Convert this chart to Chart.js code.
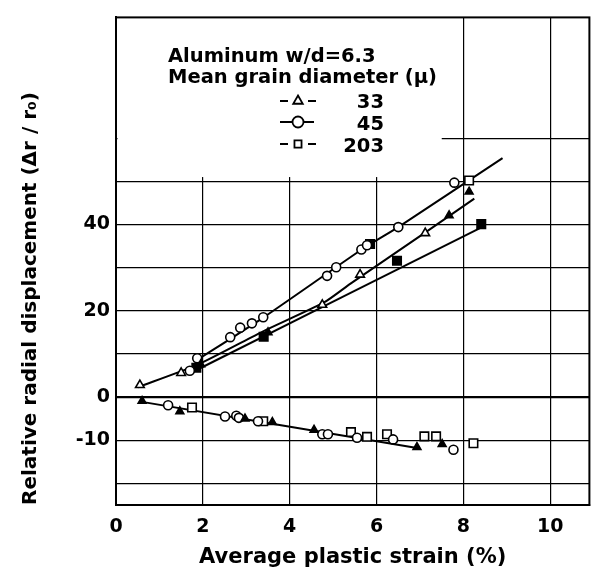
<!DOCTYPE html>
<html>
<head>
<meta charset="utf-8">
<script src="https://cdn.jsdelivr.net/npm/chart.js@4/dist/chart.umd.min.js"></script>
<style>
html, body { margin: 0; background: #fff; }
#wrap { width: 597px; height: 576px; }
</style>
</head>
<body>
<div id="wrap"><canvas id="graph"></canvas></div>
<script>
// Measured points, [strain %, displacement]
const tri33Open = [[0.55, 2.8], [1.5, 5.6], [4.75, 21.4], [5.62, 28.4], [7.12, 38.0]];
const tri33Filled = [[1.95, 7.6], [3.5, 15.0], [7.67, 42.1], [8.13, 47.6],
    [0.6, -0.9], [1.47, -3.3], [2.97, -5.0], [3.6, -5.8], [4.56, -7.6], [6.93, -11.6], [7.51, -10.9]];
const circ45 = [[1.7, 6.1], [1.87, 9.0], [2.63, 13.9], [2.86, 16.1], [3.13, 17.1], [3.39, 18.5],
    [4.86, 28.1], [5.07, 30.1], [5.65, 34.2], [5.78, 35.2], [6.5, 39.4], [7.79, 49.7],
    [1.2, -1.9], [2.51, -4.5], [2.77, -4.3], [2.83, -4.8], [3.27, -5.6], [4.75, -8.6],
    [4.88, -8.6], [5.55, -9.4], [6.38, -9.8], [7.77, -12.2]];
const sq203Open = [[8.13, 50.2], [1.75, -2.4], [3.39, -5.6], [5.41, -8.1], [5.78, -9.2],
    [6.24, -8.6], [7.1, -9.1], [7.37, -9.1], [8.23, -10.7]];
const sq203Filled = [[1.85, 6.8], [3.4, 14.0], [5.85, 35.5], [6.47, 31.6], [8.41, 40.1]];

// Drawn curves
const fit33 = [[0.5, 2.3], [1.9, 7.6], [3.4, 15.3], [4.8, 22], [5.4, 26.3], [7.1, 38], [8.25, 46]];
const fit45 = [[1.85, 8.5], [3.4, 18.5], [5.7, 34.5], [6.5, 39.4], [8.9, 55.4]];
const fit203 = [[1.8, 6.0], [8.45, 39.5]];
const fitNeg = [[0.6, -1.1], [7.0, -11.9]];

// Axis ticks and labels
const xTickLabels = [0, 2, 4, 6, 8, 10];
const yGridValues = [-20, -10, 0, 10, 20, 30, 40, 50, 60];
const yTickLabels = [-10, 0, 20, 40];
const noteLines = ['Aluminum w/d=6.3', 'Mean grain diameter (\u03bc)'];
const noteSizes = ['33', '45', '203'];

const pts = arr => arr.map(p => ({x: p[0], y: p[1]}));

function markers(data, style, filled, r) {
    return {
        data: pts(data), pointStyle: style, pointRadius: r,
        backgroundColor: filled ? '#000' : '#fff', borderColor: '#000',
        pointBorderWidth: 1.6, showLine: false, order: 1,
    };
}
function curve(data) {
    return {
        data: pts(data), showLine: true, borderColor: '#000', borderWidth: 2,
        pointRadius: 0, tension: 0.2, fill: false, order: 2,
    };
}

Chart.defaults.font.family = 'DejaVu Sans';
Chart.defaults.color = '#000';

// white area behind the note, frame round the plot, and the note text
const noteRight = 7.5;
const noteBottom = 51;
const notePlugin = {
    id: 'note',
    beforeDatasetsDraw(chart) {
        const {ctx, chartArea: a, scales} = chart;
        const x1 = scales.x.getPixelForValue(noteRight);
        const y1 = scales.y.getPixelForValue(noteBottom);
        ctx.save();
        ctx.fillStyle = '#fff';
        ctx.fillRect(a.left + 1.5, a.top, x1 - a.left - 1.5, y1 - a.top);

        ctx.strokeStyle = '#000';
        ctx.lineWidth = 2;
        ctx.strokeRect(a.left, a.top, a.right - a.left, a.bottom - a.top);

        ctx.fillStyle = '#000';
        ctx.font = 'bold 19.5px "DejaVu Sans"';
        ctx.textAlign = 'left';
        ctx.textBaseline = 'alphabetic';
        ctx.fillText(noteLines[0], 168, 62);
        ctx.fillText(noteLines[1], 168, 83);

        ctx.textAlign = 'right';
        const rows = [108, 130, 152];
        noteSizes.forEach((s, i) => ctx.fillText(s, 384, rows[i]));

        // key symbols
        const styles = ['triangle', 'circle', 'rect'];
        const cy = [101, 122, 144];
        styles.forEach((st, i) => {
            ctx.lineWidth = 2;
            ctx.beginPath();
            if (st === 'circle') {
                ctx.moveTo(280, cy[i]); ctx.lineTo(314, cy[i]);
            } else {
                ctx.moveTo(280, cy[i]); ctx.lineTo(288, cy[i]);
                ctx.moveTo(308, cy[i]); ctx.lineTo(316, cy[i]);
            }
            ctx.stroke();
            ctx.fillStyle = '#fff';
            ctx.lineWidth = 1.8;
            Chart.helpers.drawPoint(ctx, {pointStyle: st, radius: st === 'rect' ? 5 : 5.5, rotation: 0, borderWidth: 1.8}, 298, cy[i]);
        });
        ctx.restore();
    }
};

const ctx = document.getElementById('graph').getContext('2d');
new Chart(ctx, {
    type: 'scatter',
    data: {
        datasets: [
            markers(tri33Open, 'triangle', false, 5),
            markers(tri33Filled, 'triangle', true, 4.5),
            markers(circ45, 'circle', false, 4.5),
            markers(sq203Open, 'rect', false, 6),
            markers(sq203Filled, 'rect', true, 6),
            curve(fit33),
            curve(fit45),
            curve(fit203),
            curve(fitNeg),
        ],
    },
    options: {
        responsive: true,
        maintainAspectRatio: false,
        animation: false,
        devicePixelRatio: 1,
        layout: {padding: {top: 14, right: 7, left: 0, bottom: 0}},
        plugins: {legend: {display: false}, tooltip: {enabled: false}},
        scales: {
            x: {
                type: 'linear', min: 0, max: 10.9,
                afterFit: s => { s.height = 71; },
                afterBuildTicks: s => { s.ticks = xTickLabels.map(v => ({value: v})); },
                ticks: {
                    padding: 11,
                    font: {size: 19, weight: 'bold'},
                    callback: v => v,
                },
                grid: {
                    drawTicks: false,
                    color: c => (c.tick && c.tick.value > 0) ? '#000' : 'rgba(0,0,0,0)',
                    lineWidth: 1.2,
                },
                border: {color: '#000', width: 2},
                title: {
                    display: true, text: 'Average plastic strain (%)',
                    font: {size: 21, weight: 'bold'}, padding: {top: 0, bottom: 6},
                },
            },
            y: {
                type: 'linear', min: -25, max: 88,
                afterFit: s => { s.width = 116; },
                afterBuildTicks: s => { s.ticks = yGridValues.map(v => ({value: v})); },
                ticks: {
                    padding: 6,
                    font: {size: 19, weight: 'bold'},
                    callback: v => yTickLabels.includes(v) ? v : '',
                },
                grid: {
                    drawTicks: false,
                    color: '#000',
                    lineWidth: c => (c.tick && c.tick.value === 0) ? 2.2 : 1.2,
                },
                border: {color: '#000', width: 2},
                title: {
                    display: true, text: 'Relative radial displacement (\u0394r / r\u2080)',
                    align: 'start', font: {size: 20, weight: 'bold'}, padding: {top: 19, bottom: 0},
                },
            },
        },
    },
    plugins: [notePlugin],
});
</script>
</body>
</html>
